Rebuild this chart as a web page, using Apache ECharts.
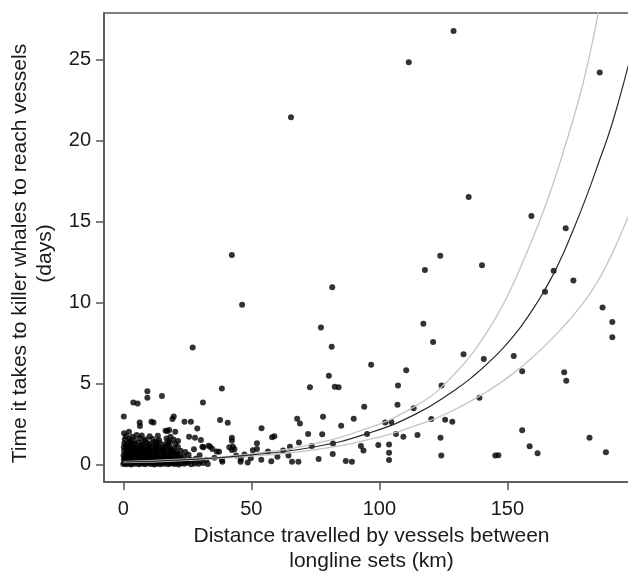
<!DOCTYPE html>
<html>
<head>
<meta charset="utf-8">
<script src="https://cdn.jsdelivr.net/npm/echarts@6/dist/echarts.min.js"></script>
<style>html,body{margin:0;padding:0;background:#fff;}#c{width:628px;height:575px;}</style>
</head>
<body>
<div id="c"></div>
<script>
// Tick labels
var xTicks = [0, 50, 100, 150];
var yTicks = [0, 5, 10, 15, 20, 25];

// Observations: [distance km, days]
var scatteredSets = [
[129.0,26.79],[111.5,24.86],[186.1,24.22],[65.5,21.46],[134.9,16.53],[159.4,15.36],[172.8,14.6],[42.4,12.95],
[123.8,12.9],[140.1,12.31],[117.8,12.02],[168.1,11.98],[175.8,11.37],[81.6,10.95],[164.7,10.68],[46.4,9.88],
[187.2,9.7],[191.0,8.8],[191.0,7.87],[117.2,8.7],[77.2,8.47],[81.4,7.28],[27.1,7.23],[121.0,7.57],[132.9,6.82],
[140.8,6.52],[152.5,6.7],[96.8,6.16],[110.5,5.82],[155.8,5.77],[172.2,5.7],[173.0,5.17],[80.3,5.48],[82.6,4.81],
[84.1,4.77],[72.9,4.77],[107.3,4.88],[124.3,4.88],[38.5,4.7],[9.4,4.53],[9.4,4.12],[15.1,4.24],[3.9,3.83],
[5.6,3.77],[31.1,3.83],[94.1,3.57],[107.1,3.7],[113.4,3.47],[139.1,4.13],
[0.2,2.96],[19.2,2.82],[19.7,2.96],[11.0,2.65],[11.8,2.59],[6.4,2.59],[6.5,2.38],[23.9,2.65],[26.4,2.65],
[37.8,2.75],[40.8,2.58],[67.9,2.83],[69.0,2.53],[78.0,2.95],[90.0,2.83],[85.1,2.4],[102.3,2.6],[104.7,2.63],
[120.3,2.81],[125.7,2.76],[128.5,2.65],[54.0,2.24],[28.9,2.22],[155.8,2.11],[20.3,2.02],[16.5,2.09],[59.0,1.74],
[58.1,1.68],[72.2,1.88],[77.7,1.87],[95.2,1.88],[106.5,1.88],[109.4,1.72],[114.9,1.82],[123.9,1.65],[182.1,1.66],
[42.4,1.65],[42.8,1.1],[158.7,1.13],[161.8,0.7],[188.5,0.76],[145.3,0.55],[146.5,0.58],[124.2,0.55],[103.8,0.72],
[103.8,1.24],[103.8,0.28],[99.6,1.2],[92.8,1.15],[93.8,0.87],[86.9,0.22],[89.3,0.17],[81.8,0.65],[81.9,1.3],
[76.3,0.34],[73.6,1.14],[68.4,0.17],[65.9,0.17],[65.1,1.1],[64.5,0.55],[68.6,1.36],[53.9,0.3],[50.6,0.88],
[52.2,1.31],[56.5,0.8],[45.8,0.17],[38.7,0.17],[33.3,1.16],[36.5,0.8],[0.3,1.93],[2.2,2.03],[5.2,1.82],
[17.2,2.07],[17.9,2.13],[21.4,1.45],[42.4,1.47],[30.3,1.51],[25.7,1.72],[28.0,1.66],[52.2,0.96],[45.9,0.32],
[49.8,0.38],[38.5,0.28],[42.4,0.9],[41.4,1.06],[33.9,1.1],[34.8,0.96],[30.9,1.1],[37.4,0.79],[43.4,0.94],
[31.3,1.06],[47.3,0.62],[60.2,0.48],[62.4,0.86],[57.8,0.2],[35.6,0.42],[44.1,0.55],[48.6,0.12],[27.6,0.95],
[29.8,0.58],[32.4,0.3]
];

// Dense cluster of short sets near the origin: [distance km, days]
var nearSets = [
[0.0,0.03],[0.5,0.08],[1.2,0.02],[1.8,0.11],[2.5,0.05],[3.1,0.0],[3.9,0.09],[4.6,0.04],[5.3,0.12],[6.1,0.02],
[6.8,0.07],[7.6,0.1],[8.3,0.01],[9.1,0.06],[9.8,0.13],[10.6,0.03],[11.4,0.09],[12.1,0.0],[12.9,0.05],[13.7,0.11],
[14.4,0.02],[15.2,0.08],[16.0,0.04],[16.8,0.12],[17.5,0.01],[18.3,0.07],[19.1,0.1],[19.9,0.03],[20.8,0.06],
[21.7,0.0],[22.6,0.09],[23.8,0.04],[25.1,0.11],[26.5,0.02],[27.9,0.07],[29.4,0.05],[31.2,0.1],[33.0,0.03],
[0.2,0.31],[1.0,0.26],[1.9,0.35],[2.7,0.28],[3.6,0.33],[4.4,0.24],[5.3,0.37],[6.2,0.29],[7.0,0.32],[7.9,0.25],
[8.8,0.36],[9.6,0.3],[10.5,0.27],[11.3,0.34],[12.2,0.23],[13.1,0.31],[14.0,0.36],[14.9,0.26],[15.8,0.33],
[16.7,0.28],[17.6,0.35],[18.6,0.24],[19.5,0.3],[20.4,0.37],[21.5,0.27],[23.0,0.33],[24.6,0.25],[26.1,0.31],[28.3,0.36],
[0.1,0.56],[0.9,0.52],[1.8,0.6],[2.6,0.54],[3.5,0.58],[4.3,0.5],[5.2,0.62],[6.1,0.55],[6.9,0.51],[7.8,0.59],
[8.7,0.53],[9.5,0.61],[10.4,0.5],[11.3,0.57],[12.3,0.63],[13.2,0.52],[14.2,0.58],[15.3,0.54],[16.4,0.6],
[17.4,0.51],[18.5,0.57],[19.6,0.62],[20.7,0.53],[22.1,0.58],[23.7,0.5],[25.5,0.61],
[0.3,0.82],[1.2,0.77],[2.1,0.85],[3.0,0.79],[3.9,0.84],[4.8,0.76],[5.6,0.88],[6.5,0.8],[7.4,0.75],[8.4,0.86],
[9.3,0.78],[10.2,0.83],[11.1,0.76],[12.2,0.87],[13.3,0.8],[14.5,0.84],[15.6,0.77],[16.8,0.86],[18.0,0.79],
[19.3,0.83],[20.6,0.75],[22.4,0.85],[24.2,0.78],
[0.2,1.06],[1.3,1.02],[2.3,1.1],[3.3,1.04],[4.4,1.08],[5.5,1.0],[6.6,1.12],[7.7,1.03],[8.8,1.07],[10.0,1.01],
[11.2,1.11],[12.5,1.04],[13.8,1.09],[15.1,1.02],[16.6,1.1],[18.1,1.05],[19.8,1.0],[21.3,1.08],
[0.4,1.32],[1.7,1.27],[3.1,1.35],[4.6,1.29],[6.0,1.36],[7.5,1.26],[9.1,1.33],[10.7,1.28],[12.4,1.37],[14.2,1.3],
[16.1,1.25],[18.2,1.34],[20.4,1.28],
[0.6,1.56],[2.4,1.6],[4.2,1.52],[6.5,1.63],[8.8,1.55],[11.4,1.58],[14.0,1.5],[16.9,1.61],[19.6,1.54],
[1.1,1.76],[3.6,1.72],[7.2,1.8],[10.3,1.74],[13.5,1.78],[18.4,1.71],
[0.8,0.17],[2.2,0.19],[4.1,0.16],[5.8,0.2],[7.2,0.18],[8.9,0.15],[10.3,0.21],[12.6,0.17],[14.8,0.19],[17.1,0.16],
[19.4,0.2],[21.2,0.18],[24.3,0.16],[27.2,0.21],[30.1,0.18],[0.6,0.44],[2.9,0.46],[5.6,0.42],[8.1,0.45],[10.9,0.43],
[13.6,0.47],[16.2,0.41],[19.0,0.45],[21.9,0.43],[2.0,0.68],[4.9,0.71],[7.5,0.67],[10.1,0.7],[13.0,0.69],[15.9,0.72],
[18.8,0.68],[21.0,0.66],[1.7,0.93],[4.1,0.95],[7.0,0.92],[9.8,0.96],[12.7,0.93],[15.5,0.94],[18.6,0.91],
[1.0,1.19],[3.8,1.2],[6.9,1.17],[9.9,1.22],[13.1,1.18],[17.3,1.21],[2.6,1.43],[8.2,1.45],[12.9,1.42],[17.6,1.44]
];

// Fitted curve and confidence band: [distance km, days]
var fitCurve = [[0,0.15],[25,0.3],[50,0.6],[75,1.1],[95,1.9],[114,3.1],[129,4.55],[137,5.5],[144,6.5],[152,7.85],
[160,9.6],[165,10.9],[170,12.4],[176,14.6],[181,16.6],[186,18.8],[191,21.1],[197.5,24.8],[199,25.8]];
var upperBand = [[0,0.18],[25,0.34],[50,0.66],[75,1.3],[100,2.5],[110,3.25],[120,4.2],[125,4.9],[130,5.7],[135,6.6],
[140,7.7],[145,8.95],[150,10.4],[156,12.5],[163,15.2],[168,17.4],[172,19.4],[178,22.6],[182,25.2],[185,27.5],[188,30]];
var lowerBand = [[0,0.12],[25,0.26],[50,0.52],[75,0.92],[100,1.7],[115,2.45],[127,3.2],[142,4.5],[152,5.6],
[160,6.65],[167,7.7],[174,8.9],[179,9.85],[183,10.75],[189,12.4],[197.5,15.4],[199,16.0]];

var FONT = 'Liberation Sans, Arial, Helvetica, sans-serif';
var chart = echarts.init(document.getElementById('c'), null, {renderer: 'canvas'});
chart.setOption({
  animation: false,
  backgroundColor: '#fff',
  grid: {left: 104, top: 13, right: -3, bottom: 93, show: true, borderColor: '#555', borderWidth: 1.5,
         backgroundColor: 'transparent', containLabel: false, outerBoundsMode: 'none'},
  xAxis: {
    type: 'value', min: -7.54, max: 198.3,
    splitLine: {show: false},
    axisLine: {show: true, onZero: false, lineStyle: {color: '#555', width: 1.5}},
    axisTick: {show: true, inside: false, length: 8, customValues: xTicks, lineStyle: {color: '#555', width: 1.5}},
    axisLabel: {customValues: xTicks, margin: 17, fontSize: 20, color: '#1a1a1a', fontFamily: FONT},
    name: 'Distance travelled by vessels between\nlongline sets (km)',
    nameLocation: 'middle', nameGap: 42,
    nameTextStyle: {fontSize: 21, lineHeight: 25, color: '#1a1a1a', fontFamily: FONT, padding: [0, 0, 0, 8]}
  },
  yAxis: {
    type: 'value', min: -1.08, max: 27.9,
    splitLine: {show: false},
    axisLine: {show: true, onZero: false, lineStyle: {color: '#555', width: 1.5}},
    axisTick: {show: true, inside: false, length: 8, customValues: yTicks, lineStyle: {color: '#555', width: 1.5}},
    axisLabel: {customValues: yTicks, margin: 13, fontSize: 20, color: '#1a1a1a', fontFamily: FONT},
    name: 'Time it takes to killer whales to reach vessels\n(days)',
    nameLocation: 'middle', nameGap: 46, nameRotate: 90,
    nameTextStyle: {fontSize: 21, lineHeight: 25, color: '#1a1a1a', fontFamily: FONT, padding: [0, 12, 0, 0]}
  },
  series: [
    {type: 'scatter', data: nearSets, symbolSize: 6, itemStyle: {color: '#000'}, silent: true, z: 2},
    {type: 'scatter', data: scatteredSets, symbolSize: 6, itemStyle: {color: '#000'}, silent: true, z: 2},
    {type: 'line', data: upperBand, smooth: 0.5, showSymbol: false, clip: true, lineStyle: {color: '#c4c4c4', width: 1.3}, silent: true, z: 3},
    {type: 'line', data: lowerBand, smooth: 0.5, showSymbol: false, clip: true, lineStyle: {color: '#c4c4c4', width: 1.3}, silent: true, z: 3},
    {type: 'line', data: fitCurve, smooth: 0.5, showSymbol: false, clip: true, lineStyle: {color: '#2a2a2a', width: 1.2}, silent: true, z: 4}
  ]
});
</script>
</body>
</html>
